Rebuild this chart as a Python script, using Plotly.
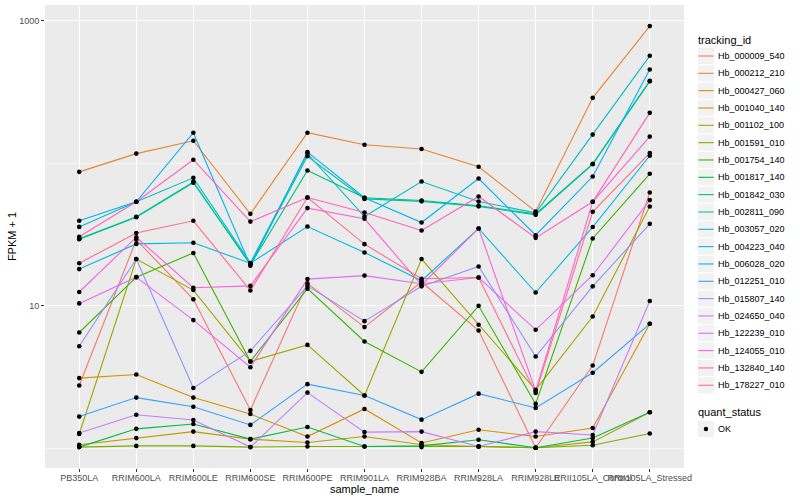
import plotly.graph_objects as go

samples = ["PB350LA", "RRIM600LA", "RRIM600LE", "RRIM600SE", "RRIM600PE", "RRIM901LA",
           "RRIM928BA", "RRIM928LA", "RRIM928LE", "RRII105LA_Control", "RRII105LA_Stressed"]

# FPKM + 1 values, one list per gene, in sample order
Hb_000009_540 = [2.76, 29.1, 11.1, 1.86, 14.4, 7.09, 14.7, 6.71, 1.01, 3.81, 62.4]
Hb_000212_210 = [87.1, 117, 144, 44.2, 164, 135, 126, 94.5, 45.9, 288, 918]
Hb_000427_060 = [3.11, 3.30, 2.27, 1.74, 1.21, 1.89, 1.09, 1.35, 1.21, 1.39, 7.48]
Hb_001040_140 = [1.06, 1.18, 1.31, 1.16, 1.10, 1.21, 1.06, 1.03, 1.01, 1.11, 1.79]
Hb_001102_100 = [1.26, 21.3, 12.9, 4.07, 5.32, 2.35, 21.3, 7.36, 2.57, 8.41, 49.8]
Hb_001591_010 = [1.02, 1.04, 1.04, 1.02, 1.03, 1.03, 1.02, 1.03, 1.01, 1.05, 1.27]
Hb_001754_140 = [6.50, 15.9, 23.5, 4.07, 13.2, 5.62, 3.44, 10.0, 2.05, 29.7, 84.4]
Hb_001817_140 = [1.02, 1.37, 1.48, 1.16, 1.41, 1.03, 1.04, 1.15, 1.01, 1.18, 1.79]
Hb_001842_030 = [29.5, 42.2, 74.1, 19.4, 89.0, 57.3, 54.8, 50.3, 44.2, 99.2, 379]
Hb_002811_090 = [29.3, 41.8, 73.0, 19.7, 112, 56.3, 54.1, 49.9, 43.5, 98.4, 376]
Hb_003057_020 = [35.8, 53.7, 79.1, 20.0, 117, 42.3, 74.5, 54.0, 44.9, 159, 568]
Hb_004223_040 = [18.1, 27.2, 27.7, 19.9, 36.0, 23.7, 15.0, 34.9, 12.4, 35.7, 113]
Hb_006028_020 = [39.5, 53.7, 164, 19.1, 120, 57.3, 38.4, 78.2, 31.3, 80.8, 455]
Hb_012251_010 = [1.67, 2.27, 1.96, 1.46, 2.82, 2.35, 1.59, 2.42, 1.92, 3.39, 7.48]
Hb_015807_140 = [5.21, 21.3, 2.65, 4.83, 13.8, 7.81, 13.7, 18.9, 4.41, 13.7, 37.6]
Hb_024650_040 = [1.28, 1.72, 1.58, 1.02, 2.46, 1.30, 1.31, 1.03, 1.31, 1.24, 10.8]
Hb_122239_010 = [10.4, 15.9, 7.94, 3.71, 15.4, 16.3, 14.3, 15.8, 6.79, 16.4, 55.2]
Hb_124055_010 = [12.5, 30.3, 13.4, 13.8, 48.5, 40.8, 14.0, 34.9, 2.53, 53.7, 154]
Hb_132840_140 = [30.5, 53.7, 106, 39.0, 57.5, 45.2, 33.8, 58.5, 30.0, 53.7, 226]
Hb_178227_010 = [19.9, 32.4, 39.5, 12.8, 57.5, 27.1, 15.5, 15.8, 2.45, 45.7, 118]

tracking_ids = ["Hb_000009_540", "Hb_000212_210", "Hb_000427_060", "Hb_001040_140",
                "Hb_001102_100", "Hb_001591_010", "Hb_001754_140", "Hb_001817_140",
                "Hb_001842_030", "Hb_002811_090", "Hb_003057_020", "Hb_004223_040",
                "Hb_006028_020", "Hb_012251_010", "Hb_015807_140", "Hb_024650_040",
                "Hb_122239_010", "Hb_124055_010", "Hb_132840_140", "Hb_178227_010"]
series = [Hb_000009_540, Hb_000212_210, Hb_000427_060, Hb_001040_140, Hb_001102_100,
          Hb_001591_010, Hb_001754_140, Hb_001817_140, Hb_001842_030, Hb_002811_090,
          Hb_003057_020, Hb_004223_040, Hb_006028_020, Hb_012251_010, Hb_015807_140,
          Hb_024650_040, Hb_122239_010, Hb_124055_010, Hb_132840_140, Hb_178227_010]
colors = ["#F8766D", "#EA8331", "#D89000", "#C09B00", "#A3A500", "#7CAE00", "#39B600",
          "#00BB4E", "#00BF7D", "#00C1A3", "#00BFC4", "#00BAE0", "#00B0F6", "#35A2FF",
          "#9590FF", "#C77CFF", "#E76BF3", "#FA62DB", "#FF62BC", "#FF6C91"]

quant_status = ["OK"]

FONT = "Liberation Sans, Arial, sans-serif"
W, H = 800, 500
ML, MR, MT, MB = 45, 116, 5, 32

fig = go.Figure()
for name, vals, col in zip(tracking_ids, series, colors):
    fig.add_trace(go.Scatter(
        x=samples, y=vals, mode="lines", name=name,
        line=dict(color=col, width=1.1), showlegend=False,
    ))

all_x = [s for vals in series for s in samples]
all_y = [v for vals in series for v in vals]
fig.add_trace(go.Scatter(
    x=all_x, y=all_y, mode="markers", name=quant_status[0],
    marker=dict(color="black", size=4.6, line=dict(width=0)),
    showlegend=False,
))

# ---- ggplot-style legend (guide) drawn in paper space ----
def gx(px):
    return (px - ML) / (W - ML - MR)

def gy(py):
    return (H - MB - py) / (H - MT - MB)

shapes, annotations = [], []
KEY_X0, KEY = 697.3, 17.33
TXT_X = 716.3

def key_box(cy):
    shapes.append(dict(type="rect", xref="paper", yref="paper",
                       x0=gx(KEY_X0), x1=gx(KEY_X0 + KEY),
                       y0=gy(cy + KEY / 2), y1=gy(cy - KEY / 2),
                       fillcolor="#F2F2F2", line=dict(color="white", width=1)))

def label(text, px, py, size, color="black"):
    annotations.append(dict(text=text, x=gx(px), y=gy(py), xref="paper", yref="paper",
                            xanchor="left", yanchor="middle", showarrow=False,
                            font=dict(family=FONT, size=size, color=color)))

label("tracking_id", 695.5, 39.5, 11)
first_cy = 56.0
for i, (name, col) in enumerate(zip(tracking_ids, colors)):
    cy = first_cy + i * KEY
    key_box(cy)
    shapes.append(dict(type="line", xref="paper", yref="paper",
                       x0=gx(KEY_X0 + 1.0), x1=gx(KEY_X0 + KEY - 1.0),
                       y0=gy(cy), y1=gy(cy), line=dict(color=col, width=1.1)))
    label(name, TXT_X, cy, 9)

label("quant_status", 695.5, 411.8, 11)
ok_cy = 429.0
key_box(ok_cy)
cx = KEY_X0 + KEY / 2
shapes.append(dict(type="circle", xref="paper", yref="paper",
                   x0=gx(cx - 2.2), x1=gx(cx + 2.2), y0=gy(ok_cy + 2.2), y1=gy(ok_cy - 2.2),
                   fillcolor="black", line=dict(width=0)))
label(quant_status[0], TXT_X, ok_cy, 9)

fig.update_layout(
    width=W, height=H,
    margin=dict(l=ML, r=MR, t=MT, b=MB, autoexpand=False),
    paper_bgcolor="white", plot_bgcolor="#EBEBEB",
    font=dict(family=FONT, size=9, color="#4D4D4D"),
    showlegend=False,
    shapes=shapes, annotations=annotations,
    xaxis=dict(
        type="category", categoryorder="array", categoryarray=samples,
        range=[-0.6, 10.6], showgrid=True, gridcolor="white", gridwidth=1.1,
        zeroline=False, showline=False, ticks="outside", ticklen=3,
        tickcolor="#333333", tickwidth=1, tickangle=0, automargin=False,
        ticklabelstandoff=-2,
        tickfont=dict(family=FONT, size=9, color="#4D4D4D"),
        title=dict(text="sample_name", font=dict(family=FONT, size=11, color="black"), standoff=0),
    ),
    yaxis=dict(
        type="log", range=[-0.138, 3.111], automargin=False,
        tickmode="array", tickvals=[10, 1000], ticktext=["10", "1000"],
        showgrid=True, gridcolor="white", gridwidth=1.1,
        minor=dict(tickmode="array", tickvals=[1, 100], showgrid=True,
                   gridcolor="white", gridwidth=0.55, ticks=""),
        zeroline=False, showline=False, ticks="outside", ticklen=3,
        tickcolor="#333333", tickwidth=1,
        tickfont=dict(family=FONT, size=9, color="#4D4D4D"),
        title=dict(text="FPKM + 1", font=dict(family=FONT, size=11, color="black"), standoff=0),
    ),
)

fig.write_html("out.html", config={"displayModeBar": False, "staticPlot": True},
               post_script="document.body.style.margin='0';document.body.style.overflow='hidden';")
